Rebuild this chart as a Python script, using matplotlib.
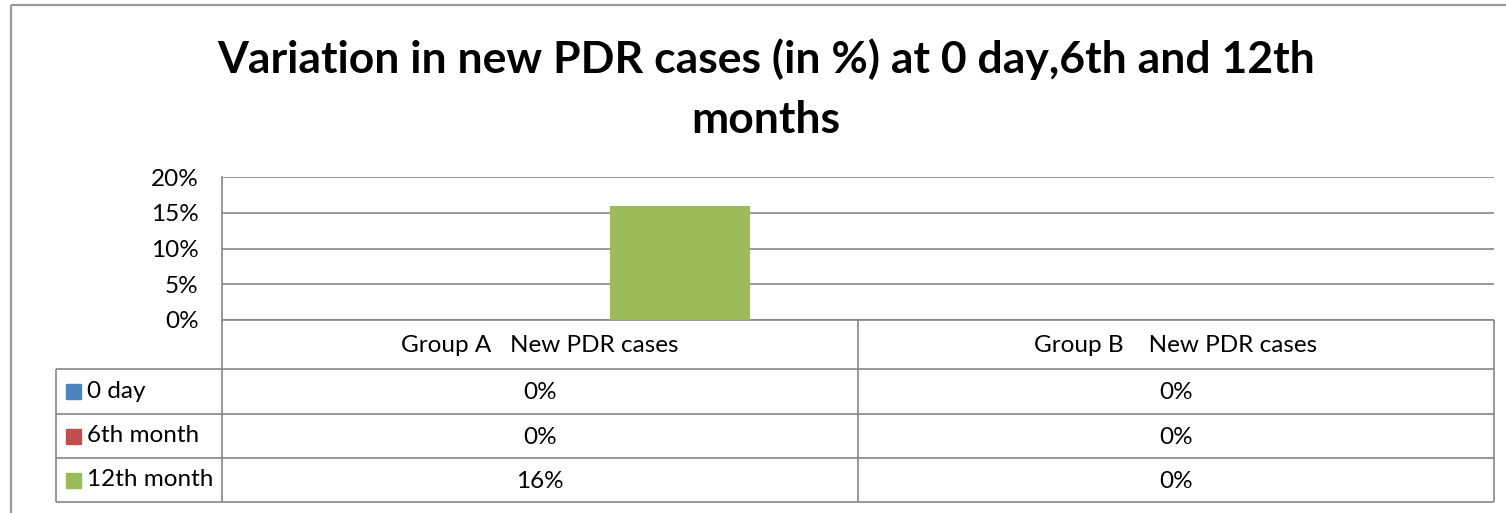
import matplotlib
matplotlib.use("Agg")
import matplotlib.pyplot as plt
import numpy as np

# ---- data ----
categories = ["Group A   New PDR cases", "Group B    New PDR cases"]
series_names = ["0 day", "6th month", "12th month"]
values_0day = [0, 0]
values_6th = [0, 0]
values_12th = [16, 0]
series_colors = ["#4F81BD", "#C0504D", "#9BBB59"]
yticks = [0, 5, 10, 15, 20]
title = "Variation in new PDR cases (in %) at 0 day,6th and 12th\nmonths"

series_values = [values_0day, values_6th, values_12th]

W, H = 1506, 513
FONT = "Lato"
plt.rcParams['font.family'] = [FONT, 'DejaVu Sans']
fig = plt.figure(figsize=(W / 100, H / 100), dpi=100)

GRID = "#868686"
FS = 17.5

# overlay axes in pixel coords
ov = fig.add_axes([0, 0, 1, 1])
ov.set_xlim(0, W)
ov.set_ylim(H, 0)
ov.axis("off")

# outer frame
ov.plot([11, 11], [5, H + 5], color="#9a9a9a", lw=1.6, solid_capstyle="butt")
ov.plot([11, W + 5], [5, 5], color="#9a9a9a", lw=1.6, solid_capstyle="butt")

ov.text(766, 89, title, ha="center", va="center", fontsize=32, fontweight="bold",
        linespacing=1.6)

# plot area geometry (pixels)
px_l, px_r, px_t, px_b = 222, 1494, 177, 320
ax = fig.add_axes([px_l / W, (H - px_b) / H, (px_r - px_l) / W, (px_b - px_t) / H])
ax.set_zorder(2)
ax.patch.set_alpha(0)

n_cat = len(categories)
x = np.arange(n_cat)
bw = 0.22
for i, (vals, col) in enumerate(zip(series_values, series_colors)):
    ax.bar(x + (i - 1) * bw, vals, width=bw, color=col, zorder=3)

ax.set_xlim(-0.5, n_cat - 0.5)
ax.set_ylim(0, 20)
ax.set_yticks(yticks)
ax.set_yticklabels([f"{t}%" for t in yticks], fontsize=FS)
ax.set_xticks([])
ax.tick_params(axis="y", length=0, pad=17)
ax.yaxis.grid(True, color=GRID, lw=1.2)
ax.set_axisbelow(True)
for s in ["top", "right", "bottom"]:
    ax.spines[s].set_visible(False)
ax.spines["left"].set_color(GRID)
ax.spines["left"].set_linewidth(1.2)

# ---- data table ----
col_x = [px_l, 858, px_r]
header_b = 369
row_edges = [369, 414, 458, 502]
leg_l = 56
lc = dict(color=GRID, lw=1.2, solid_capstyle="butt")

ov.plot([px_l, px_r], [px_b, px_b], **lc)
for cx in col_x:
    ov.plot([cx, cx], [px_b, row_edges[-1]], **lc)
for ry in row_edges:
    ov.plot([leg_l, px_r], [ry, ry], **lc)
ov.plot([leg_l, leg_l], [row_edges[0], row_edges[-1]], **lc)

for j, cat in enumerate(categories):
    cxm = (col_x[j] + col_x[j + 1]) / 2
    ov.text(cxm, (px_b + header_b) / 2 + 1, cat, ha="center", va="center", fontsize=FS)

for i, (name, vals, col) in enumerate(zip(series_names, series_values, series_colors)):
    ym = (row_edges[i] + row_edges[i + 1]) / 2
    ov.add_patch(plt.Rectangle((66, ym - 7.5), 15, 15, color=col))
    ov.text(87, ym, name, ha="left", va="center", fontsize=FS)
    for j, v in enumerate(vals):
        cxm = (col_x[j] + col_x[j + 1]) / 2
        ov.text(cxm, ym + 1, f"{v}%", ha="center", va="center", fontsize=FS)

fig.savefig("out.png", dpi=100)
